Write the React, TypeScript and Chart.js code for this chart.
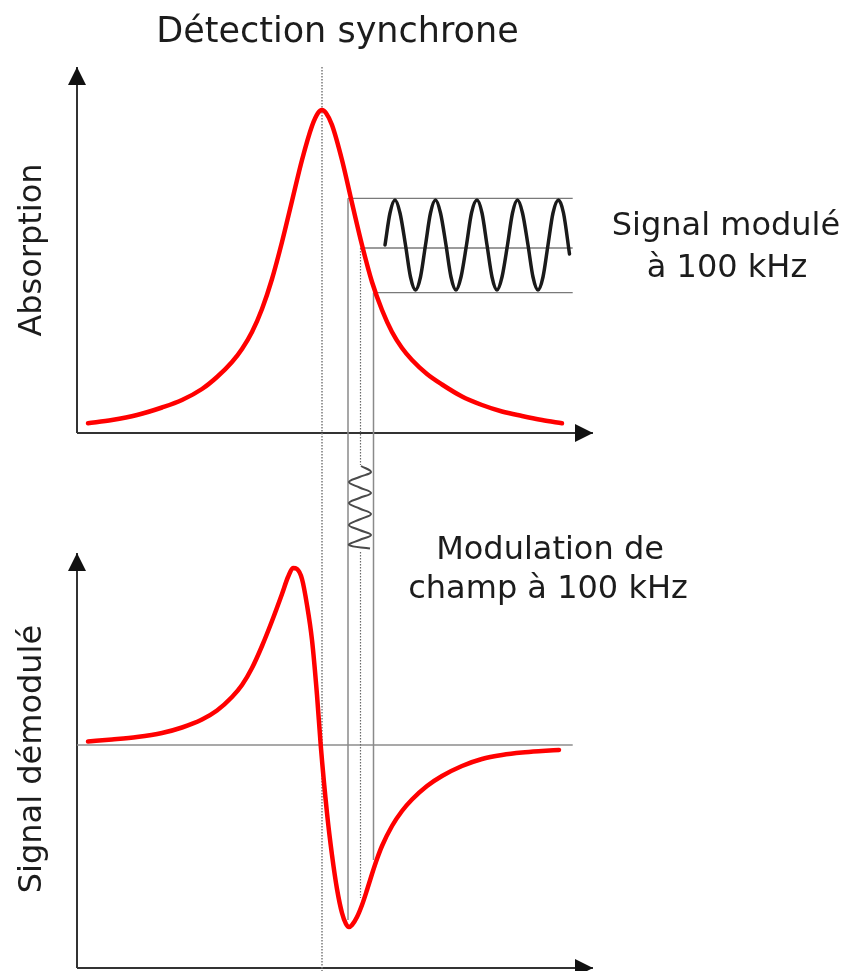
import React, { useEffect, useRef } from 'react';
import { Chart, registerables } from 'chart.js';

Chart.register(...registerables);

// ---------------- Text ----------------
const TITLE = 'Détection synchrone';
const ABSORPTION_LABEL = 'Absorption';
const DEMOD_LABEL = 'Signal démodulé';
const MODULATED_SIGNAL_LINES = ['Signal modulé', 'à 100 kHz'];
const FIELD_MODULATION_LINES = ['Modulation de', 'champ à 100 kHz'];

// ---------------- Data (field = offset from resonance, arbitrary units) ----------------
// Absorption line (top panel)
const absorptionField = [-23.4, -21.0, -18.5, -16.0, -14.0, -12.0, -10.5, -9.0, -8.0, -7.0, -6.0, -5.0, -4.0, -3.0, -2.0, -1.0, -0.4, 0, 0.4, 1.0, 2.0, 3.0, 4.0, 5.0, 6.0, 7.0, 8.0, 9.0, 10.5, 12.0, 14.0, 16.0, 18.0, 20.0, 22.0, 24.0];
const absorptionValue = [0.97, 1.3, 1.8, 2.55, 3.3, 4.4, 5.6, 7.1, 8.4, 10.1, 12.4, 15.4, 19.1, 23.2, 27.3, 30.7, 32.0, 32.3, 32.0, 30.8, 27.3, 23.0, 18.8, 15.1, 12.3, 10.1, 8.5, 7.3, 5.9, 4.85, 3.65, 2.8, 2.15, 1.7, 1.3, 0.97];

// Demodulated signal (first derivative, bottom panel)
const derivativeField = [-23.4, -21.0, -18.5, -16.0, -14.0, -12.0, -10.5, -9.0, -8.0, -7.0, -6.0, -5.0, -4.0, -3.4, -2.9, -2.5, -2.0, -1.5, -1.0, -0.5, -0.13, 0.5, 1.0, 1.5, 2.0, 2.4, 2.7, 3.0, 3.5, 4.0, 4.5, 5.0, 5.5, 6.0, 7.0, 8.0, 9.0, 10.5, 12.0, 14.0, 16.0, 18.0, 20.0, 22.0, 23.7];
const derivativeValue = [0.35, 0.55, 0.8, 1.2, 1.75, 2.55, 3.45, 4.8, 6.0, 7.7, 9.9, 12.4, 15.1, 16.8, 17.7, 17.6, 16.6, 14.0, 10.5, 5.0, 0, -6.8, -11.0, -14.4, -16.8, -17.9, -18.2, -18.0, -17.2, -16.0, -14.5, -12.9, -11.4, -10.1, -8.1, -6.6, -5.45, -4.1, -3.1, -2.1, -1.4, -1.0, -0.75, -0.6, -0.5];

// Modulated absorption signal at 100 kHz (drawn beside the line, top panel units)
const modSignalX = [6.3, 6.8, 7.3, 7.8, 8.35, 8.85, 9.35, 9.85, 10.35, 10.85, 11.35, 11.85, 12.4, 12.9, 13.4, 13.9, 14.45, 14.95, 15.5, 16.0, 16.5, 17.0, 17.5, 18.0, 18.55, 19.05, 19.55, 20.05, 20.6, 21.1, 21.6, 22.1, 22.6, 23.1, 23.65, 24.15, 24.75];
const modSignalY = [18.8, 22.0, 23.3, 22.0, 18.8, 15.6, 14.3, 15.6, 18.8, 22.0, 23.3, 22.0, 18.8, 15.6, 14.3, 15.6, 18.8, 22.0, 23.3, 22.0, 18.8, 15.6, 14.3, 15.6, 18.8, 22.0, 23.3, 22.0, 18.8, 15.6, 14.3, 15.6, 18.8, 22.0, 23.3, 22.0, 17.9];

// Field modulation at 100 kHz (field on x, time running downward, top panel units)
const fieldModX = [3.9, 4.9, 3.75, 2.7, 3.75, 4.9, 3.75, 2.7, 3.75, 4.9, 3.75, 2.7, 3.75, 4.9, 3.75, 2.7, 4.8];
const fieldModY = [-3.3, -3.9, -4.4, -4.9, -5.45, -6.0, -6.5, -7.0, -7.55, -8.1, -8.65, -9.2, -9.7, -10.2, -10.7, -11.2, -11.55];

// Operating point of the modulation
const modFieldLevels = [2.6, 3.85, 5.15];          // low, centre, high field
const modAbsLevels = [23.47, 18.5, 14.03];          // absorption at those fields
const modGuideEnd = 25.07;                          // right end of the horizontal guides
const modGuideBottom = [-48.7, -46.5, -42.7];       // where the vertical guides stop
const modCentreGap = [-3.2, -11.9];                 // gap of the centre guide around the modulation

// Axes
const fieldAxis = [-24.5, 27.1];
const absorptionAxis = [0, 36.6];
const demodAxis = [-22.3, 19.2];
const resonanceLine = [36.6, -53.8];

const zip = (xs: number[], ys: number[]) => xs.map((x, i) => ({ x, y: ys[i] }));

const RED = '#ff0000';
const AXIS = '#333333';
const GUIDE = '#8a8a8a';

const axisArrows = {
  id: 'axisArrows',
  afterDatasetsDraw(chart: any) {
    const ctx = chart.ctx;
    chart.data.datasets.forEach((ds: any, i: number) => {
      if (!ds.arrowHead) return;
      const pts = chart.getDatasetMeta(i).data;
      if (pts.length < 2) return;
      const a = pts[pts.length - 2];
      const b = pts[pts.length - 1];
      const ang = Math.atan2(b.y - a.y, b.x - a.x);
      ctx.save();
      ctx.translate(b.x, b.y);
      ctx.rotate(ang);
      ctx.beginPath();
      ctx.moveTo(0, 0);
      ctx.lineTo(-18, -9);
      ctx.lineTo(-18, 9);
      ctx.closePath();
      ctx.fillStyle = '#111';
      ctx.fill();
      ctx.restore();
    });
  },
};

const labels = {
  id: 'diagramLabels',
  afterDraw(chart: any) {
    const ctx = chart.ctx;
    ctx.save();
    ctx.fillStyle = '#1c1c1c';
    ctx.font = '32px "DejaVu Sans", sans-serif';
    ctx.textAlign = 'center';
    ctx.textBaseline = 'alphabetic';
    ctx.fillText(MODULATED_SIGNAL_LINES[0], 726, 235);
    ctx.fillText(MODULATED_SIGNAL_LINES[1], 727, 277);
    ctx.fillText(FIELD_MODULATION_LINES[0], 550, 559);
    ctx.fillText(FIELD_MODULATION_LINES[1], 548, 598);
    const vertical = (text: string, x: number, y: number) => {
      ctx.save();
      ctx.translate(x, y);
      ctx.rotate(-Math.PI / 2);
      ctx.fillText(text, 0, 0);
      ctx.restore();
    };
    vertical(ABSORPTION_LABEL, 41, 250);
    vertical(DEMOD_LABEL, 41, 759);
    ctx.restore();
  },
};

const line = (data: any[], axis: string, color: string, width: number, extra: any = {}) => ({
  data,
  yAxisID: axis,
  borderColor: color,
  backgroundColor: color,
  borderWidth: width,
  pointRadius: 0,
  showLine: true,
  fill: false,
  ...extra,
});

export default function App() {
  const ref = useRef<HTMLCanvasElement | null>(null);

  useEffect(() => {
    if (!ref.current) return;
    const [fLow, fMid, fHigh] = modFieldLevels;
    const [aLow, aMid, aHigh] = modAbsLevels;
    const datasets: any[] = [
      line(zip(absorptionField, absorptionValue), 'yA', RED, 4.5, { cubicInterpolationMode: 'monotone', borderJoinStyle: 'round', borderCapStyle: 'round' }),
      line(zip(derivativeField, derivativeValue), 'yD', RED, 4.5, { cubicInterpolationMode: 'monotone', borderJoinStyle: 'round', borderCapStyle: 'round' }),
      line(zip(modSignalX, modSignalY), 'yA', '#1a1a1a', 3.5, { cubicInterpolationMode: 'monotone', borderCapStyle: 'round' }),
      line(zip(fieldModX, fieldModY), 'yA', '#4a4a4a', 2, { tension: 0.4 }),
      // horizontal guides (top)
      line([{ x: fLow, y: aLow }, { x: modGuideEnd, y: aLow }], 'yA', '#7a7a7a', 1.3),
      line([{ x: fMid, y: aMid }, { x: modGuideEnd, y: aMid }], 'yA', '#7a7a7a', 1.3),
      line([{ x: fHigh, y: aHigh }, { x: modGuideEnd, y: aHigh }], 'yA', '#7a7a7a', 1.3),
      // vertical guides
      line([{ x: fLow, y: aLow }, { x: fLow, y: modGuideBottom[0] }], 'yA', GUIDE, 1.5),
      line([{ x: fMid, y: aMid }, { x: fMid, y: modCentreGap[0] }], 'yA', '#6a6a6a', 1.2, { borderDash: [1.5, 1.5] }),
      line([{ x: fMid, y: modCentreGap[1] }, { x: fMid, y: modGuideBottom[1] }], 'yA', '#6a6a6a', 1.2, { borderDash: [1.5, 1.5] }),
      line([{ x: fHigh, y: aHigh }, { x: fHigh, y: modGuideBottom[2] }], 'yA', GUIDE, 1.5),
      // zero line of demodulated signal
      line([{ x: fieldAxis[0], y: 0 }, { x: modGuideEnd, y: 0 }], 'yD', '#8c8c8c', 1.5),
      // resonance line
      line([{ x: 0, y: resonanceLine[0] }, { x: 0, y: resonanceLine[1] }], 'yA', '#7a7a7a', 1.5, { borderDash: [1.5, 1.5] }),
      // axes
      line([{ x: fieldAxis[0], y: absorptionAxis[0] }, { x: fieldAxis[1], y: absorptionAxis[0] }], 'yA', AXIS, 2, { arrowHead: true }),
      line([{ x: fieldAxis[0], y: absorptionAxis[0] }, { x: fieldAxis[0], y: absorptionAxis[1] }], 'yA', AXIS, 2, { arrowHead: true }),
      line([{ x: fieldAxis[0], y: demodAxis[0] }, { x: fieldAxis[1], y: demodAxis[0] }], 'yD', AXIS, 2, { arrowHead: true }),
      line([{ x: fieldAxis[0], y: demodAxis[0] }, { x: fieldAxis[0], y: demodAxis[1] }], 'yD', AXIS, 2, { arrowHead: true }),
    ];

    const chart = new Chart(ref.current, {
      type: 'scatter',
      data: { datasets },
      options: {
        responsive: false,
        animation: false,
        events: [],
        devicePixelRatio: 1,
        layout: { padding: { left: 0, top: 0, right: 168, bottom: 0 } },
        plugins: {
          legend: { display: false },
          tooltip: { enabled: false },
          title: {
            display: true,
            text: TITLE,
            fullSize: false,
            align: 'center',
            color: '#1c1c1c',
            font: { family: '"DejaVu Sans", sans-serif', size: 35, weight: 'normal', lineHeight: 1.2 },
            padding: { top: 12, bottom: 6 },
          },
        },
        scales: {
          x: { type: 'linear', min: -32.2, max: 35.3, display: false },
          yA: { type: 'linear', axis: 'y', position: 'left', min: -53.8, max: 37.3, display: false },
          yD: { type: 'linear', axis: 'y', position: 'left', min: -22.6, max: 68.5, display: false },
        },
      } as any,
      plugins: [axisArrows, labels],
    });
    return () => chart.destroy();
  }, []);

  return (
    <div style={{ position: 'absolute', left: 0, top: 0, width: 843, height: 971, background: '#fff' }}>
      <canvas ref={ref} width={843} height={971} style={{ display: 'block' }} />
    </div>
  );
}
